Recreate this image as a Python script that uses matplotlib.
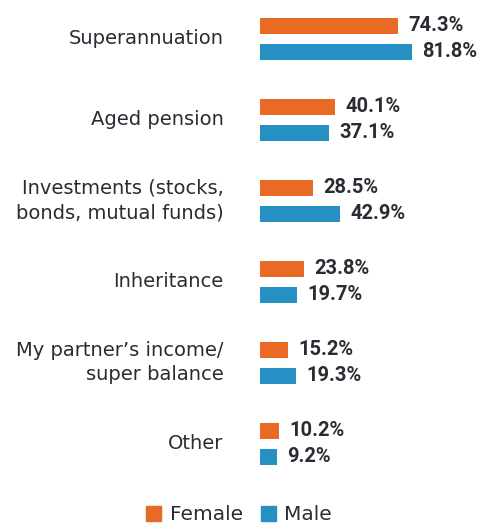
import matplotlib
matplotlib.use("Agg")
import matplotlib.pyplot as plt
from matplotlib.patches import Patch

categories = ["Superannuation", "Aged pension", "Investments (stocks,\nbonds, mutual funds)",
              "Inheritance", "My partner\u2019s income/\nsuper balance", "Other"]
female = [74.3, 40.1, 28.5, 23.8, 15.2, 10.2]
male = [81.8, 37.1, 42.9, 19.7, 19.3, 9.2]

ORANGE = "#E96A24"
BLUE = "#2690C4"
TXT = "#2a2c33"

W, H = 485, 524
fig = plt.figure(figsize=(W / 100, H / 100), dpi=100)
ax = fig.add_axes([260 / W, 0, 186 / W, 1])
ax.set_xlim(0, 100)
ax.set_ylim(H, 0)
ax.axis("off")

start, step, off, bh = 38.5, 81, 13, 16
for i, (cat, f, m) in enumerate(zip(categories, female, male)):
    c = start + step * i
    ax.barh(c - off, f, height=bh, color=ORANGE)
    ax.barh(c + off, m, height=bh, color=BLUE)
    ax.text(f + 5.6, c - off, f"{f:.1f}%", va="center", ha="left", fontsize=14.5,
            fontweight="bold", color=TXT, family="Roboto")
    ax.text(m + 5.6, c + off, f"{m:.1f}%", va="center", ha="left", fontsize=14.5,
            fontweight="bold", color=TXT, family="Roboto")
    ax.text(-19.5, c, cat, va="center", ha="right", fontsize=14, color=TXT,
            family="DejaVu Sans", linespacing=1.38)

handles = [Patch(color=ORANGE, label="Female"), Patch(color=BLUE, label="Male")]
leg = fig.legend(handles=handles, loc="center", bbox_to_anchor=(239 / W, 1 - 515 / H),
                 ncol=2, frameon=False, fontsize=14.5, handlelength=0.75, handleheight=0.75,
                 handletextpad=0.4, columnspacing=0.9, borderaxespad=0, borderpad=0)
for t in leg.get_texts():
    t.set_color(TXT)
    t.set_family("DejaVu Sans")

fig.savefig("out.png", dpi=100)
